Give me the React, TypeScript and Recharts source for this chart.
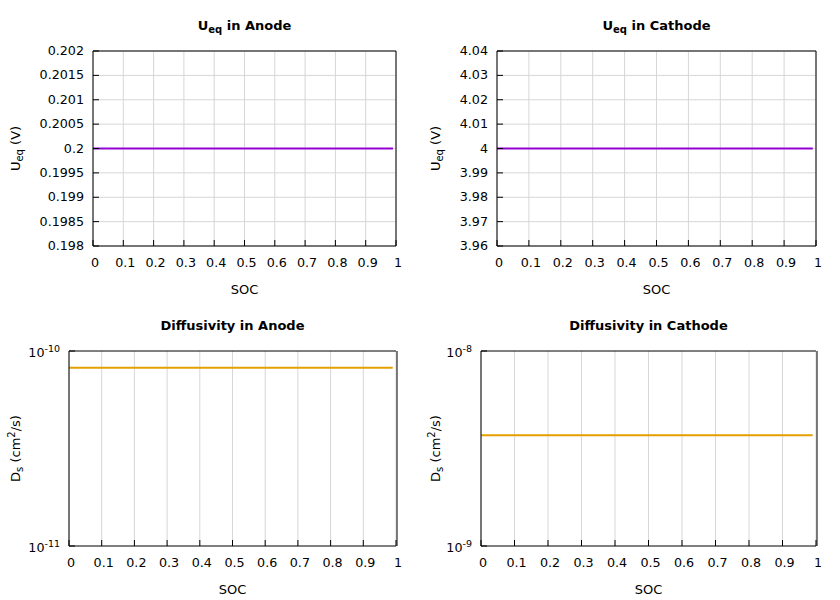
import React from "react";
import { LineChart, Line, XAxis, YAxis, CartesianGrid, Label } from "recharts";

// SOC sample points (lines stop just short of 1)
const SOC = [0, 0.1, 0.2, 0.3, 0.4, 0.5, 0.6, 0.7, 0.8, 0.9, 0.99];
const ANODE_UEQ = [0.2, 0.2, 0.2, 0.2, 0.2, 0.2, 0.2, 0.2, 0.2, 0.2, 0.2];
const CATHODE_UEQ = [4, 4, 4, 4, 4, 4, 4, 4, 4, 4, 4];
const ANODE_DS = [8.2e-11, 8.2e-11, 8.2e-11, 8.2e-11, 8.2e-11, 8.2e-11, 8.2e-11, 8.2e-11, 8.2e-11, 8.2e-11, 8.2e-11];
const CATHODE_DS = [3.7e-9, 3.7e-9, 3.7e-9, 3.7e-9, 3.7e-9, 3.7e-9, 3.7e-9, 3.7e-9, 3.7e-9, 3.7e-9, 3.7e-9];

const SOC_TICKS = [0, 0.1, 0.2, 0.3, 0.4, 0.5, 0.6, 0.7, 0.8, 0.9, 1];
const ANODE_U_TICKS = [0.198, 0.1985, 0.199, 0.1995, 0.2, 0.2005, 0.201, 0.2015, 0.202];
const CATHODE_U_TICKS = [3.96, 3.97, 3.98, 3.99, 4, 4.01, 4.02, 4.03, 4.04];
const ANODE_DS_TICKS = [1e-11, 1e-10];
const ANODE_DS_MINOR = [2e-11, 3e-11, 4e-11, 5e-11, 6e-11, 7e-11, 8e-11, 9e-11];
const CATHODE_DS_TICKS = [1e-9, 1e-8];
const CATHODE_DS_MINOR = [2e-9, 3e-9, 4e-9, 5e-9, 6e-9, 7e-9, 8e-9, 9e-9];

const PURPLE = "#9400d3";
const ORANGE = "#e69f00";
const GRID = "#d6d6d6";
const FONT = "DejaVu Sans";
const TICK_FS = 12.7;
const LABEL_FS = 13;

type Seg = { t: string; sub?: boolean; sup?: boolean };

const W = 420;
const H = 300;
const TOP = 51;
const BOTTOM = 54;
const RIGHT = 24;

// tspans with gnuplot-ish sub/superscripts
function segs(parts: Seg[], small = 10) {
  let shift = 0;
  return parts.map((p, i) => {
    const target = p.sub ? 3 : p.sup ? -5 : 0;
    const dy = target - shift;
    shift = target;
    return (
      <tspan key={i} dy={dy} fontSize={p.sub || p.sup ? small : undefined}>
        {p.t}
      </tspan>
    );
  });
}

interface PanelProps {
  title: Seg[];
  yLabel: Seg[];
  values: number[];
  color: string;
  left: number;
  log?: boolean;
  domain: [number, number];
  ticks: number[];
  minor?: number[];
}

function Panel({ title, yLabel, values, color, left, log, domain, ticks, minor }: PanelProps) {
  const rows = SOC.map((s, i) => ({ soc: s, v: values[i] }));
  const plotW = W - left - RIGHT;
  const plotB = H - BOTTOM;
  const midX = left + plotW / 2;
  const midY = TOP + (plotB - TOP) / 2;
  // every axis is given a 1px band, so the margins give that pixel back
  const leftAxes = minor ? 2 : 1;
  const rightAxes = minor ? 2 : 1;

  const yTick = (p: any) => {
    const v = p.payload.value as number;
    if (log) {
      const e = Math.round(Math.log10(v));
      return (
        <text x={left - 9} y={p.y + 5.5} textAnchor="end" fontFamily={FONT} fontSize={TICK_FS} fill="#000" style={{ whiteSpace: "pre" }}>
          {segs([{ t: "10" }, { t: String(e), sup: true }], 9.5)}
        </text>
      );
    }
    return (
      <text x={left - 9} y={p.y + 4} textAnchor="end" fontFamily={FONT} fontSize={TICK_FS} fill="#000">
        {String(v)}
      </text>
    );
  };

  const xTick = (p: any) => (
    <text x={p.x + 2} y={plotB + 21} textAnchor="middle" fontFamily={FONT} fontSize={TICK_FS} fill="#000">
      {String(p.payload.value)}
    </text>
  );

  return (
    <LineChart
      width={W}
      height={H}
      data={rows}
      margin={{ top: TOP - 1, right: RIGHT - rightAxes, bottom: BOTTOM - 1, left: left - leftAxes }}
    >
      <CartesianGrid stroke={GRID} horizontal={!log} vertical />
      <XAxis
        xAxisId={0}
        dataKey="soc"
        type="number"
        domain={[0, 1]}
        ticks={SOC_TICKS}
        interval={0}
        height={1}
        tickSize={-6}
        tickMargin={0}
        stroke="#000"
        tick={xTick}
      >
        <Label
          content={() => (
            <text x={midX} y={plotB + 48} textAnchor="middle" fontFamily={FONT} fontSize={LABEL_FS} fill="#000">
              SOC
            </text>
          )}
        />
      </XAxis>
      <XAxis
        xAxisId="top"
        orientation="top"
        dataKey="soc"
        type="number"
        domain={[0, 1]}
        ticks={SOC_TICKS}
        interval={0}
        height={1}
        tickSize={-6}
        stroke="#000"
        tick={false}
      >
        <Label
          content={() => (
            <text
              x={midX}
              y={TOP - 21}
              textAnchor="middle"
              fontFamily={FONT}
              fontSize={LABEL_FS}
              fontWeight="bold"
              fill="#000"
              style={{ whiteSpace: "pre" }}
            >
              {segs(title)}
            </text>
          )}
        />
      </XAxis>
      <YAxis
        yAxisId={0}
        scale={log ? "log" : "auto"}
        type="number"
        domain={domain}
        allowDataOverflow
        ticks={ticks}
        interval={0}
        width={1}
        tickSize={-6}
        tickMargin={0}
        stroke="#000"
        tick={yTick}
      >
        <Label
          content={() => (
            <text
              x={20}
              y={midY}
              transform={`rotate(-90 20 ${midY})`}
              textAnchor="middle"
              fontFamily={FONT}
              fontSize={LABEL_FS}
              fill="#000"
              style={{ whiteSpace: "pre" }}
            >
              {segs(yLabel)}
            </text>
          )}
        />
      </YAxis>
      <YAxis
        yAxisId="right"
        orientation="right"
        scale={log ? "log" : "auto"}
        type="number"
        domain={domain}
        allowDataOverflow
        ticks={ticks}
        interval={0}
        width={1}
        tickSize={-6}
        stroke="#000"
        tick={false}
      />
      {minor && (
        <YAxis
          yAxisId="minorL"
          scale="log"
          type="number"
          domain={domain}
          allowDataOverflow
          ticks={minor}
          interval={0}
          width={1}
          tickSize={-4}
          axisLine={false}
          stroke="#000"
          tick={false}
        />
      )}
      {minor && (
        <YAxis
          yAxisId="minorR"
          orientation="right"
          scale="log"
          type="number"
          domain={domain}
          allowDataOverflow
          ticks={minor}
          interval={0}
          width={1}
          tickSize={-4}
          axisLine={false}
          stroke="#000"
          tick={false}
        />
      )}
      <Line
        xAxisId={0}
        yAxisId={0}
        type="linear"
        dataKey="v"
        stroke={color}
        strokeWidth={2}
        dot={false}
        isAnimationActive={false}
      />
    </LineChart>
  );
}

export default function App() {
  const cell = (x: number, y: number): React.CSSProperties => ({ position: "absolute", left: x, top: y });
  return (
    <div style={{ position: "absolute", left: 0, top: 0, width: 840, height: 600, background: "#fff", fontFamily: FONT }}>
      <div style={cell(0, 0)}>
        <Panel
          title={[{ t: "U" }, { t: "eq", sub: true }, { t: " in Anode" }]}
          yLabel={[{ t: "U" }, { t: "eq", sub: true }, { t: " (V)" }]}
          values={ANODE_UEQ}
          color={PURPLE}
          left={93}
          domain={[0.198, 0.202]}
          ticks={ANODE_U_TICKS}
        />
      </div>
      <div style={cell(420, 0)}>
        <Panel
          title={[{ t: "U" }, { t: "eq", sub: true }, { t: " in Cathode" }]}
          yLabel={[{ t: "U" }, { t: "eq", sub: true }, { t: " (V)" }]}
          values={CATHODE_UEQ}
          color={PURPLE}
          left={77}
          domain={[3.96, 4.04]}
          ticks={CATHODE_U_TICKS}
        />
      </div>
      <div style={cell(0, 300)}>
        <Panel
          title={[{ t: "Diffusivity in Anode" }]}
          yLabel={[{ t: "D" }, { t: "s", sub: true }, { t: " (cm" }, { t: "2", sup: true }, { t: "/s)" }]}
          values={ANODE_DS}
          color={ORANGE}
          left={69}
          log
          domain={[1e-11, 1e-10]}
          ticks={ANODE_DS_TICKS}
          minor={ANODE_DS_MINOR}
        />
      </div>
      <div style={cell(420, 300)}>
        <Panel
          title={[{ t: "Diffusivity in Cathode" }]}
          yLabel={[{ t: "D" }, { t: "s", sub: true }, { t: " (cm" }, { t: "2", sup: true }, { t: "/s)" }]}
          values={CATHODE_DS}
          color={ORANGE}
          left={61}
          log
          domain={[1e-9, 1e-8]}
          ticks={CATHODE_DS_TICKS}
          minor={CATHODE_DS_MINOR}
        />
      </div>
    </div>
  );
}
